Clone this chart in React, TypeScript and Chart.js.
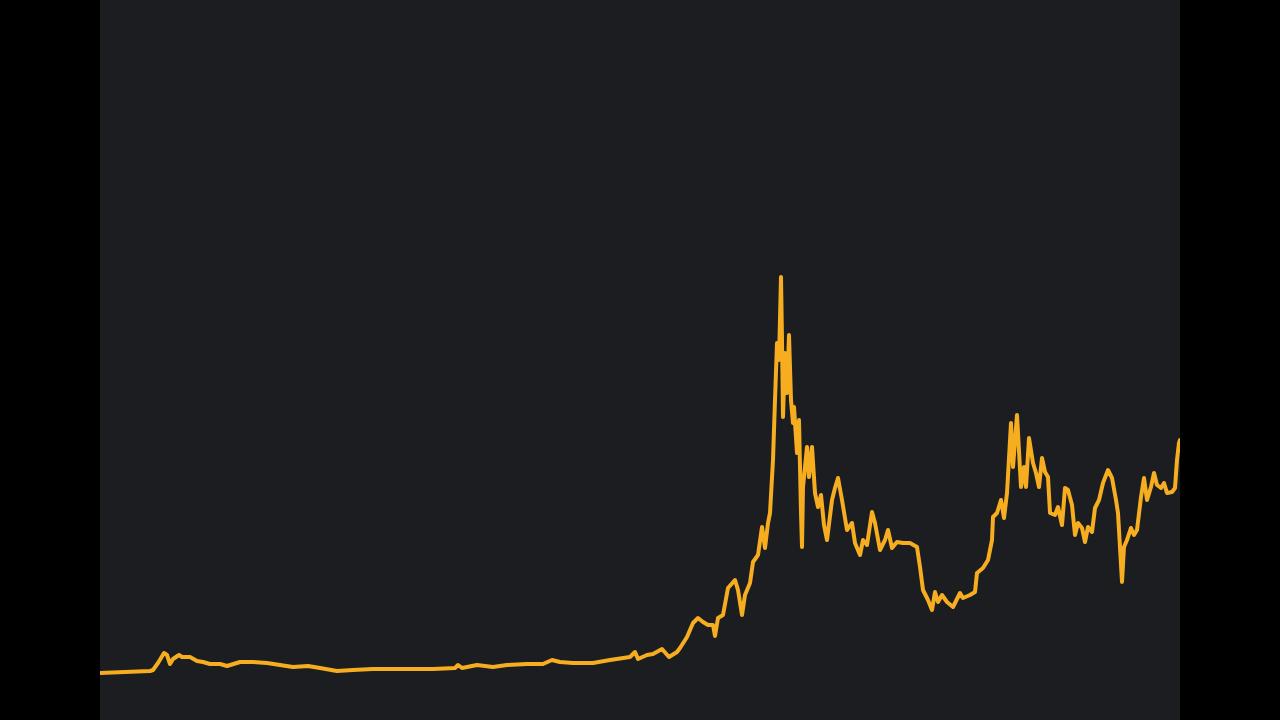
import React, { useEffect, useRef } from "react";
import { Chart, registerables } from "chart.js";

Chart.register(...registerables);

// Time index (days from start of visible window)
const days: number[] = [
  0, 50, 53, 58, 64, 67, 70, 73, 79, 82, 90, 97, 103, 110, 120, 127, 140, 153, 167, 180,
  193, 208, 220, 237, 253, 273, 300, 333, 355, 358, 362, 377, 393, 407, 427, 443, 452, 460, 473, 493,
  510, 530, 535, 538, 547, 553, 562, 569, 577, 580, 587, 593, 598, 603, 608, 613, 615, 618, 623, 628,
  635, 638, 642, 645, 650, 653, 658, 662, 665, 668, 670, 673, 675, 677, 679, 681, 682, 683, 685, 687,
  689, 691, 693, 694, 697, 699, 701, 702, 703, 707, 709, 712, 715, 718, 721, 724, 727, 732, 735, 738,
  742, 747, 752, 755, 760, 763, 767, 772, 775, 780, 785, 788, 792, 797, 803, 810, 817, 820, 823, 828,
  832, 835, 838, 842, 847, 853, 860, 863, 870, 875, 877, 883, 888, 892, 893, 897, 901, 904, 907, 911,
  913, 917, 921, 924, 926, 929, 933, 936, 939, 942, 945, 948, 950, 955, 958, 962, 965, 968, 972, 975,
  978, 982, 985, 988, 992, 995, 999, 1003, 1008, 1012, 1016, 1018, 1022, 1024, 1027, 1031, 1034, 1037, 1041, 1044,
  1047, 1051, 1054, 1057, 1061, 1064, 1067, 1072, 1075, 1077, 1079, 1080,
];

// Price index values
const values: number[] = [
  47, 49, 50, 57, 67, 65, 56, 61, 65, 63, 63, 59, 58, 56, 56, 54, 58, 58, 57, 55,
  53, 54, 52, 49, 50, 51, 51, 51, 52, 55, 52, 55, 53, 55, 56, 56, 60, 58, 57, 57,
  60, 63, 68, 61, 65, 66, 71, 63, 68, 72, 83, 97, 102, 98, 95, 95, 84, 102, 105, 132,
  140, 130, 105, 125, 137, 158, 165, 193, 172, 197, 207, 260, 320, 377, 360, 443, 380, 303, 367, 327,
  385, 320, 297, 313, 267, 300, 207, 173, 233, 273, 243, 273, 227, 213, 225, 195, 180, 220, 232, 242,
  220, 190, 197, 177, 165, 180, 175, 208, 197, 170, 180, 190, 172, 178, 177, 177, 173, 153, 130, 120,
  110, 128, 118, 125, 118, 113, 127, 122, 125, 128, 147, 152, 160, 180, 203, 207, 220, 202, 227, 297,
  253, 305, 233, 253, 233, 282, 257, 247, 233, 262, 248, 243, 207, 205, 213, 195, 232, 230, 215, 185,
  197, 192, 178, 193, 188, 212, 220, 237, 250, 242, 220, 207, 138, 173, 180, 192, 185, 190, 223, 242,
  220, 233, 247, 235, 232, 237, 227, 228, 232, 260, 277, 280,
];

const X_MIN = 0;
const X_MAX = 1080;
const Y_MIN = 0;
const Y_MAX = 720;

export default function App() {
  const canvasRef = useRef<HTMLCanvasElement | null>(null);

  useEffect(() => {
    if (!canvasRef.current) return;
    const chart = new Chart(canvasRef.current, {
      type: "line",
      data: {
        datasets: [
          {
            data: days.map((d, i) => ({ x: d, y: values[i] })),
            borderColor: "#f6ad1f",
            borderWidth: 4,
            pointRadius: 0,
            tension: 0,
            fill: false,
            borderJoinStyle: "round",
            borderCapStyle: "round",
          },
        ],
      },
      options: {
        animation: false,
        responsive: false,
        maintainAspectRatio: false,
        layout: { padding: 0 },
        plugins: { legend: { display: false }, tooltip: { enabled: false } },
        scales: {
          x: { type: "linear", min: X_MIN, max: X_MAX, display: false },
          y: { type: "linear", min: Y_MIN, max: Y_MAX, display: false },
        },
      },
    });
    return () => chart.destroy();
  }, []);

  return (
    <div
      style={{
        position: "fixed",
        left: 0,
        top: 0,
        width: 1280,
        height: 720,
        background: "#000000",
        overflow: "hidden",
      }}
    >
      <div
        style={{
          position: "absolute",
          left: 100,
          top: 0,
          width: 1080,
          height: 720,
          background: "#1b1d21",
        }}
      >
        <canvas ref={canvasRef} width={1080} height={720} style={{ display: "block" }} />
      </div>
    </div>
  );
}
